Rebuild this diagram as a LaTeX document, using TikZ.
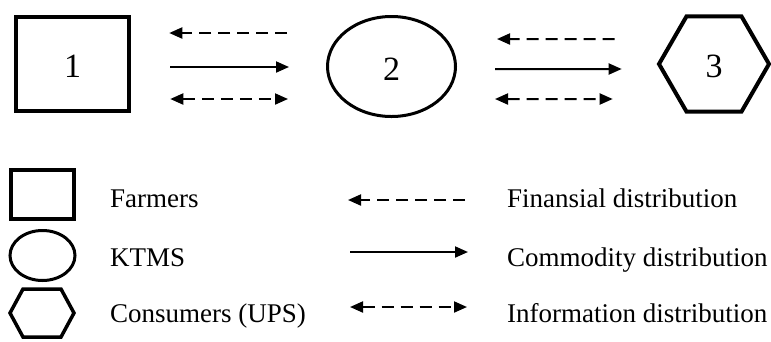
\documentclass[tikz,border=0pt]{standalone}
\usepackage{fontspec}
\setmainfont{Liberation Serif}
\usetikzlibrary{arrows.meta, shapes.geometric}

\begin{document}
\begin{tikzpicture}[x=1pt, y=-1pt, >={Triangle[length=13pt, width=11pt]},
    every node/.style={inner sep=0pt},
    num/.style={font=\fontsize{34}{40}\selectfont, text height=27pt},
    txt/.style={anchor=base west, font=\fontsize{27}{32}\selectfont},
    flow/.style={line width=2pt},
    fin/.style={flow, ->, dash pattern=on 12pt off 7pt},
    com/.style={flow, ->},
    info/.style={flow, <->, dash pattern=on 12pt off 7pt}]
  \useasboundingbox (0,0) rectangle (771,341);
  \node[draw, line width=4.5pt, minimum width=113pt, minimum height=94pt, num] (1) at (72.5,64) {1};
  \node[draw, ellipse, line width=3pt, minimum width=128pt, minimum height=100pt, num] (2) at (391.5,66.5) {2};
  \node[draw, regular polygon, regular polygon sides=6, line width=4pt, minimum size=110pt, num] (3) at (714,64) {3};
  \draw[fin, shorten <=39pt, shorten >=38pt] ([yshift=33.5pt]2.west) -- ([yshift=31pt]1.east);
  \draw[com, shorten <=39pt, shorten >=37pt] ([yshift=-3pt]1.east) -- ([yshift=-0.5pt]2.west);
  \draw[info, shorten <=39pt, shorten >=38pt] ([yshift=-35pt]1.east) -- ([yshift=-32.5pt]2.west);
  \draw[fin, shorten <=42pt, shorten >=40pt] ([yshift=25pt]3.west) -- ([yshift=27.5pt]2.east);
  \draw[com, shorten <=38pt, shorten >=35pt] ([yshift=-2.5pt]2.east) -- ([yshift=-5pt]3.west);
  \draw[info, shorten <=38pt, shorten >=44pt] ([yshift=-32.5pt]2.east) -- ([yshift=-35pt]3.west);
  \node[draw, line width=4pt, minimum width=63pt, minimum height=49pt] (farmbox) at (42.5,194.5) {};
  \node[draw, ellipse, line width=3pt, minimum width=65pt, minimum height=50pt] (ktmsell) at (42.5,255.5) {};
  \draw[line width=3.5pt] (10,313) -- (23,289) -- (61,289) -- (74,313) -- (61,337) -- (23,337) -- cycle;
  \node[txt] (farmtxt) at (110,207.5) {Farmers};
  \node[txt] (ktmstxt) at (110,266) {KTMS};
  \node[txt] (constxt) at (110,322) {Consumers (UPS)};
  \node[txt] (fintxt) at (507,207.5) {Finansial distribution};
  \node[txt] (comtxt) at (507,266) {Commodity distribution};
  \node[txt] (infotxt) at (507,322) {Information distribution};
  \coordinate (finA) at (465,200);
  \coordinate (finB) at (348,200);
  \coordinate (comA) at (350,252);
  \coordinate (comB) at (468,252);
  \coordinate (infA) at (350,307);
  \coordinate (infB) at (467,307);
  \draw[fin] (finA) -- (finB);
  \draw[com] (comA) -- (comB);
  \draw[info] (infA) -- (infB);
\end{tikzpicture}
\end{document}
